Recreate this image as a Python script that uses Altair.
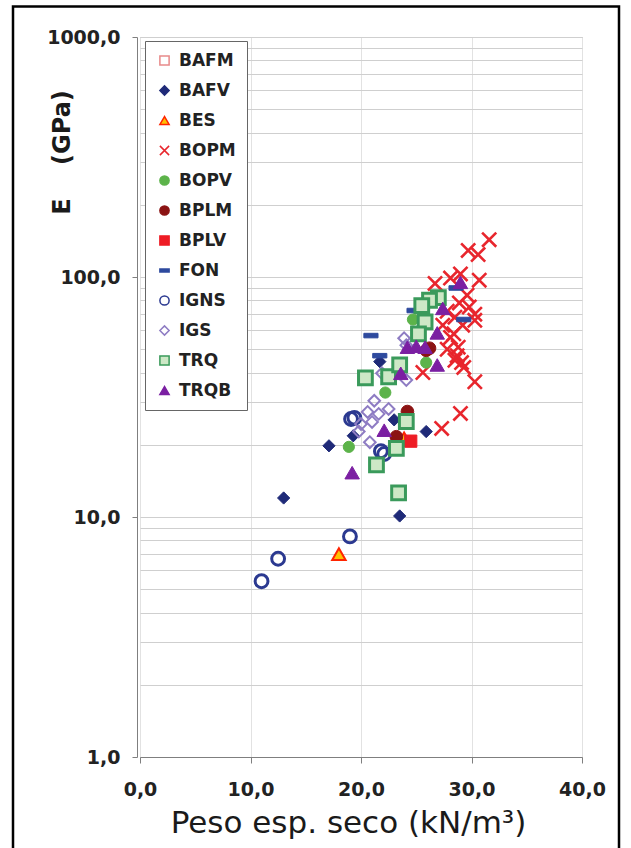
import altair as alt
import pandas as pd

# ---- series (legend order) ----
series = ["BAFM", "BAFV", "BES", "BOPM", "BOPV", "BPLM", "BPLV",
          "FON", "IGNS", "IGS", "TRQ", "TRQB"]

# dry unit weight (kN/m3) and modulus E (GPa) per lithology
bafv_x = [13.0, 17.1, 19.3, 23.0, 25.9, 23.5, 21.7]
bafv_y = [12.0, 19.8, 21.8, 25.4, 22.7, 10.1, 44.4]

bes_x = [18.0, 23.9]
bes_y = [7.0, 21.3]

bopm_x = [31.6, 30.6, 29.7, 30.7, 29.0, 28.1, 26.7, 29.6, 28.9, 30.3,
          30.3, 27.8, 28.5, 27.4, 29.2, 28.1, 28.8, 27.8, 28.5, 29.1,
          29.3, 28.7, 25.6, 30.3, 29.0, 27.3, 28.4, 29.8]
bopm_y = [143, 124, 129, 97, 103, 99, 94, 84, 78, 70,
          66, 72, 68, 63, 63, 56, 51, 50, 45, 44,
          42, 47, 40, 36.6, 27, 23.4, 58, 75]

bopv_x = [18.9, 22.2, 25.9, 24.7]
bopv_y = [19.6, 33.0, 44.0, 66.5]

bplm_x = [26.2, 25.9, 23.2, 24.2]
bplm_y = [50.5, 49.5, 21.6, 27.5]

bplv_x = [24.5]
bplv_y = [20.7]

fon_x = [28.6, 29.3, 24.8, 20.9, 21.7]
fon_y = [90.0, 66.5, 72.5, 57.0, 47.0]

igns_x = [11.0, 12.5, 19.0, 19.1, 19.4, 21.8, 22.1]
igns_y = [5.4, 6.7, 8.3, 25.6, 25.9, 18.8, 18.3]

igs_x = [23.9, 24.1, 21.9, 24.1, 21.2, 20.6, 21.6, 22.5, 20.0, 21.0,
         19.8, 20.8]
igs_y = [55.6, 52.0, 39.7, 37.2, 30.5, 27.4, 26.9, 28.2, 24.4, 24.9,
         22.7, 20.5]

trq_x = [27.0, 26.2, 25.5, 25.8, 25.2, 20.4, 22.5, 23.5, 24.1, 23.2,
         21.4, 23.4]
trq_y = [82, 80, 76, 65, 58, 38, 38.4, 43, 25, 19.3,
         16.5, 12.6]

trqb_x = [29.0, 27.4, 26.9, 24.2, 25.0, 25.8, 26.9, 23.6, 22.1, 19.2]
trqb_y = [95, 74, 58.5, 51, 51.5, 51, 43, 39.7, 23, 15.3]

x_ticks = [0, 10, 20, 30, 40]
y_grid = [m * d for d in [1, 10, 100] for m in range(1, 10)] + [1000]

# ---- styling per series ----
shapes = {
    "BAFM": "square", "BAFV": "diamond", "BES": "triangle-up",
    "BOPM": "M-1,-1L1,1M-1,1L1,-1", "BOPV": "circle", "BPLM": "circle",
    "BPLV": "square", "FON": "M-1,-0.32L1,-0.32L1,0.32L-1,0.32Z",
    "IGNS": "circle", "IGS": "diamond", "TRQ": "square", "TRQB": "triangle-up",
}
fills = {
    "BAFM": "transparent", "BAFV": "#1f2a78", "BES": "#ffc000",
    "BOPM": "transparent", "BOPV": "#5cb34a", "BPLM": "#8b1313",
    "BPLV": "#ee1c25", "FON": "#2e4a9e", "IGNS": "transparent",
    "IGS": "transparent", "TRQ": "#cde8c6", "TRQB": "#7b1fa2",
}
strokes = {
    "BAFM": "#e88a8a", "BAFV": "#1f2a78", "BES": "#ff2400",
    "BOPM": "#e8262d", "BOPV": "#5cb34a", "BPLM": "#8b1313",
    "BPLV": "#ee1c25", "FON": "#2e4a9e", "IGNS": "#2b3990",
    "IGS": "#8e7cc3", "TRQ": "#3a9a5b", "TRQB": "#7b1fa2",
}
sizes = {
    "BAFV": 150, "BES": 180, "BOPM": 200, "BOPV": 125,
    "BPLM": 160, "BPLV": 150, "FON": 200, "IGNS": 165, "IGS": 135,
    "TRQ": 190, "TRQB": 210,
}
widths = {
    "BAFV": 1, "BES": 2, "BOPM": 2.6, "BOPV": 1, "BPLM": 1,
    "BPLV": 1, "FON": 1, "IGNS": 3, "IGS": 2, "TRQ": 3, "TRQB": 1,
}

groups = [
    ("BAFV", bafv_x, bafv_y), ("BES", bes_x, bes_y), ("BOPM", bopm_x, bopm_y),
    ("BOPV", bopv_x, bopv_y), ("BPLM", bplm_x, bplm_y), ("BPLV", bplv_x, bplv_y),
    ("FON", fon_x, fon_y), ("IGNS", igns_x, igns_y), ("IGS", igs_x, igs_y),
    ("TRQ", trq_x, trq_y), ("TRQB", trqb_x, trqb_y),
]
rows = []
for name, xs, ys in groups:
    for xv, yv in zip(xs, ys):
        rows.append({"g": name, "peso": xv, "E": yv})
df = pd.DataFrame(rows)

legend = alt.Legend(
    orient="none", legendX=5, legendY=4, title=None,
    padding=11, rowPadding=12, symbolSize=85, symbolStrokeWidth=1.5,
    labelFont="DejaVu Sans", labelFontSize=17, labelFontWeight="bold",
    labelColor="#222222", labelOffset=6, strokeColor="#666666",
    fillColor="white", labelExpr="datum.label + '\u00a0'",
)

dom = series
x_fmt = "replace(format(datum.value, '.1f'), '.', ',')"
y_fmt = ("indexof([1,10,100,1000], datum.value) >= 0 ? "
         "replace(format(datum.value, '.1f'), '.', ',') : ''")

x_enc = alt.X(
    "peso:Q",
    scale=alt.Scale(domain=[0, 40], nice=False),
    axis=alt.Axis(
        values=x_ticks, labelExpr=x_fmt, labelFlush=False,
        labelFont="DejaVu Sans", labelFontSize=19, labelFontWeight="bold",
        labelColor="#222222", labelBaseline="alphabetic",
        tickSize=6, labelPadding=32, tickColor="#7f7f7f",
        domainColor="#7f7f7f", gridColor="#e2e2e2",
        title="Peso esp. seco (kN/m³)", titleFont="DejaVu Sans",
        titleFontSize=31, titleFontWeight="normal", titleColor="#1a1a1a",
        titleBaseline="alphabetic", titleX=208, titleY=75,
        titleAlign="center",
    ),
)
y_enc = alt.Y(
    "E:Q",
    scale=alt.Scale(type="log", domain=[1, 1000], nice=False),
    axis=alt.Axis(
        values=y_grid, labelExpr=y_fmt, labelOverlap=False,
        labelFont="DejaVu Sans", labelFontSize=19, labelFontWeight="bold",
        labelColor="#222222", tickSize=5, labelPadding=12, offset=3,
        tickColor="#7f7f7f", domainColor="#7f7f7f",
        tickOpacity={"condition": {"test": "indexof([1,10,100,1000], datum.value) >= 0",
                                   "value": 1}, "value": 0},
        gridColor="#cfcfcf",
        title="E\u00a0\u00a0\u00a0\u00a0(GPa)", titleFont="DejaVu Sans",
        titleFontSize=24, titleFontWeight="bold", titleColor="#1a1a1a",
        titleAngle=270, titleAlign="center", titleBaseline="alphabetic",
        titleX=-68, titleY=115,
    ),
)
shape_enc = alt.Shape("g:N", scale=alt.Scale(domain=dom, range=[shapes[s] for s in dom]),
                      legend=legend)
fill_enc = alt.Fill("g:N", scale=alt.Scale(domain=dom, range=[fills[s] for s in dom]),
                    legend=legend)
stroke_enc = alt.Stroke("g:N", scale=alt.Scale(domain=dom, range=[strokes[s] for s in dom]),
                        legend=legend)

# one layer per series so each keeps its own marker size and stroke width
layers = []
for name, _, _ in groups:
    layers.append(
        alt.Chart(df).transform_filter(alt.datum.g == name)
        .mark_point(filled=True, opacity=1, size=sizes[name], strokeWidth=widths[name])
        .encode(x=x_enc, y=y_enc, shape=shape_enc, fill=fill_enc, stroke=stroke_enc)
    )

# outer picture frame
FRAME_L, FRAME_R, FRAME_T, FRAME_B = -127, 479, -30.5, 840
frame = alt.Chart(pd.DataFrame({"k": [0]})).mark_rect(
    fillOpacity=0, stroke="black", strokeWidth=2.5
).encode(x=alt.value(FRAME_L), x2=alt.value(FRAME_R),
         y=alt.value(FRAME_T), y2=alt.value(FRAME_B))

chart = alt.layer(frame, *layers).properties(
    width=442, height=720,
    autosize=alt.AutoSizeParams(type="none"),
    padding={"left": 140, "top": 37, "right": 49, "bottom": 91},
    background="white",
).configure_view(stroke="#b5b5b5", strokeWidth=1)

chart.save("out.html", embed_options={"renderer": "svg", "actions": False})
